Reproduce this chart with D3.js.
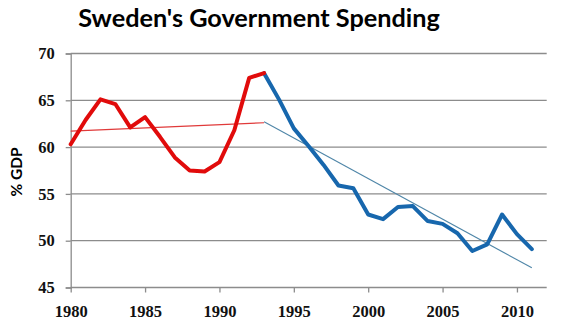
<!DOCTYPE html>
<html><head><meta charset="utf-8">
<script src="https://cdn.jsdelivr.net/npm/d3@7"></script>
<style>body{margin:0;background:#fff}svg{display:block}</style>
</head><body>
<svg id="c" width="571" height="333"></svg>
<script>
const redYears = [1980,1981,1982,1983,1984,1985,1986,1987,1988,1989,1990,1991,1992,1993];
const redValues = [60.3,62.9,65.1,64.6,62.1,63.2,61.1,58.9,57.5,57.4,58.4,61.8,67.4,67.9];
const blueYears = [1993,1994,1995,1996,1997,1998,1999,2000,2001,2002,2003,2004,2005,2006,2007,2008,2009,2010,2011];
const blueValues = [67.9,65.1,62.0,60.1,58.1,55.9,55.6,52.8,52.3,53.6,53.7,52.1,51.8,50.8,48.9,49.6,52.8,50.7,49.1];
const redTrend = [[1980,61.7],[1993,62.6]];
const blueTrend = [[1993,62.7],[2011,47.1]];
const yTicks = [45,50,55,60,65,70];
const xTicks = [1980,1985,1990,1995,2000,2005,2010];

const svg = d3.select("#c");
const x = d3.scaleLinear().domain([1980,2012]).range([70.7,546.7]);
const y = d3.scaleLinear().domain([45,70]).range([287.5,53.5]);
const labelFont = "'Liberation Serif', serif";

// gridlines
svg.append("g").selectAll("line").data(yTicks.filter(d=>d>45)).join("line")
  .attr("x1",x(1980)).attr("x2",x(2012)).attr("y1",d=>y(d)).attr("y2",d=>y(d))
  .attr("stroke","#8c8c8c").attr("stroke-width",1.3);

// y axis
const ya = svg.append("g").attr("transform",`translate(${x(1980)},0)`)
  .call(d3.axisLeft(y).tickValues(yTicks).tickSize(5).tickPadding(11));
ya.select(".domain").attr("stroke","#8c8c8c").attr("stroke-width",1.3);
ya.selectAll(".tick line").attr("stroke","#8c8c8c").attr("stroke-width",1.3);
ya.selectAll("text").attr("font-family",labelFont).attr("font-size",16.5).attr("font-weight","bold").attr("fill","#111");

// x axis
const xa = svg.append("g").attr("transform",`translate(0,${y(45)})`)
  .call(d3.axisBottom(x).tickValues(xTicks).tickFormat(d3.format("d")).tickSize(5).tickPadding(13));
xa.select(".domain").attr("stroke","#8c8c8c").attr("stroke-width",1.3).attr("d",`M${x(1980)},0H${x(2012)}`);
xa.selectAll(".tick line").attr("stroke","#8c8c8c").attr("stroke-width",1.3);
xa.selectAll("text").attr("font-family",labelFont).attr("font-size",16.5).attr("font-weight","bold").attr("fill","#111");

const line = d3.line().x(d=>x(d[0])).y(d=>y(d[1]));

// trend lines
svg.append("path").attr("d",line(redTrend)).attr("fill","none").attr("stroke","#e03a3a").attr("stroke-width",1.2);
svg.append("path").attr("d",line(blueTrend)).attr("fill","none").attr("stroke","#4f86a8").attr("stroke-width",1.1);

// series
svg.append("path").attr("d",line(blueYears.map((d,i)=>[d,blueValues[i]])))
  .attr("fill","none").attr("stroke","#1767ad").attr("stroke-width",4).attr("stroke-linejoin","round").attr("stroke-linecap","round");
svg.append("path").attr("d",line(redYears.map((d,i)=>[d,redValues[i]])))
  .attr("fill","none").attr("stroke","#e10b0b").attr("stroke-width",4).attr("stroke-linejoin","round").attr("stroke-linecap","round");

// title
const t = svg.append("text").attr("x",259).attr("y",27).attr("text-anchor","middle")
  .attr("font-family","Lato, sans-serif").attr("font-weight","bold").attr("font-size",28).attr("fill","#000")
  .text("Sweden's Government Spending");
const w = t.node().getComputedTextLength();
t.attr("font-size", 28*362/w);

// y label
svg.append("text").attr("transform","translate(22,172) rotate(-90)").attr("text-anchor","middle")
  .attr("font-family","Lato, sans-serif").attr("font-weight","bold").attr("font-size",15.5).attr("fill","#000")
  .text("% GDP");
</script>
</body></html>
